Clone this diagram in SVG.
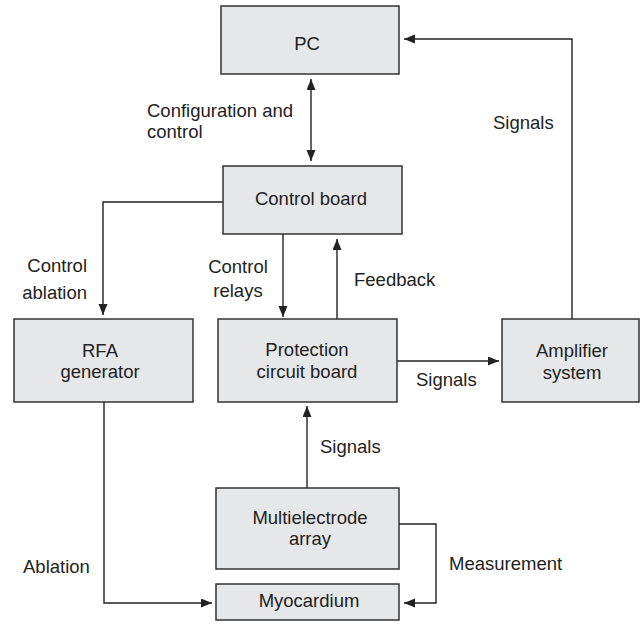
<svg xmlns="http://www.w3.org/2000/svg" width="641" height="625" viewBox="0 0 641 625">
<style>
.box{fill:#e6e7e9;stroke:#333;stroke-width:1.5}
.lbl{font-family:"Liberation Sans",Arial,sans-serif;font-size:18.5px;fill:#222}
.c{text-anchor:middle}
.r{text-anchor:end}
.ln{fill:none;stroke:#222;stroke-width:1.4}
</style>
<defs>
<marker id="ah" markerUnits="userSpaceOnUse" markerWidth="12" markerHeight="10" refX="11" refY="4.5" orient="auto-start-reverse">
<path d="M0,0 L11,4.5 L0,9 z" fill="#222"/>
</marker>
</defs>
<rect width="641" height="625" fill="#fff"/>
<g id="connectors">
<path class="ln" d="M311,79 V161" marker-start="url(#ah)" marker-end="url(#ah)"/>
<path class="ln" d="M572,319 V39 H404" marker-end="url(#ah)"/>
<path class="ln" d="M223,202 H103 V315" marker-end="url(#ah)"/>
<path class="ln" d="M283,234 V317" marker-end="url(#ah)"/>
<path class="ln" d="M337,319 V239" marker-end="url(#ah)"/>
<path class="ln" d="M397,361 H499" marker-end="url(#ah)"/>
<path class="ln" d="M307,488 V406" marker-end="url(#ah)"/>
<path class="ln" d="M104,402 V603 H212" marker-end="url(#ah)"/>
<path class="ln" d="M399,524 H436 V603 H404" marker-end="url(#ah)"/>
</g>
<g id="labels">
<text class="lbl" x="147" y="117">Configuration and</text>
<text class="lbl" x="147" y="138">control</text>
<text class="lbl" x="493" y="129">Signals</text>
<text class="lbl r" x="87" y="272">Control</text>
<text class="lbl r" x="87" y="299">ablation</text>
<text class="lbl c" x="238" y="273">Control</text>
<text class="lbl c" x="238" y="297">relays</text>
<text class="lbl" x="354" y="286">Feedback</text>
<text class="lbl" x="416" y="386">Signals</text>
<text class="lbl" x="320" y="453">Signals</text>
<text class="lbl" x="23" y="573">Ablation</text>
<text class="lbl" x="449" y="570">Measurement</text>
</g>
<g id="pc">
<rect class="box" x="221" y="6" width="178" height="68"/>
<text class="lbl c" x="307" y="50">PC</text>
</g>
<g id="control-board">
<rect class="box" x="223" y="166" width="179" height="68"/>
<text class="lbl c" x="311" y="205">Control board</text>
</g>
<g id="rfa-generator">
<rect class="box" x="14" y="319" width="179" height="83"/>
<text class="lbl c" x="100" y="357">RFA</text>
<text class="lbl c" x="100" y="378">generator</text>
</g>
<g id="protection-circuit-board">
<rect class="box" x="218" y="319" width="179" height="83"/>
<text class="lbl c" x="307" y="356">Protection</text>
<text class="lbl c" x="307" y="378">circuit board</text>
</g>
<g id="amplifier-system">
<rect class="box" x="502" y="319" width="137" height="83"/>
<text class="lbl c" x="572" y="357">Amplifier</text>
<text class="lbl c" x="572" y="379">system</text>
</g>
<g id="multielectrode-array">
<rect class="box" x="216" y="488" width="183" height="81"/>
<text class="lbl c" x="310" y="524">Multielectrode</text>
<text class="lbl c" x="310" y="545">array</text>
</g>
<g id="myocardium">
<rect class="box" x="216" y="584" width="183" height="36"/>
<text class="lbl c" x="309" y="607">Myocardium</text>
</g>
</svg>
